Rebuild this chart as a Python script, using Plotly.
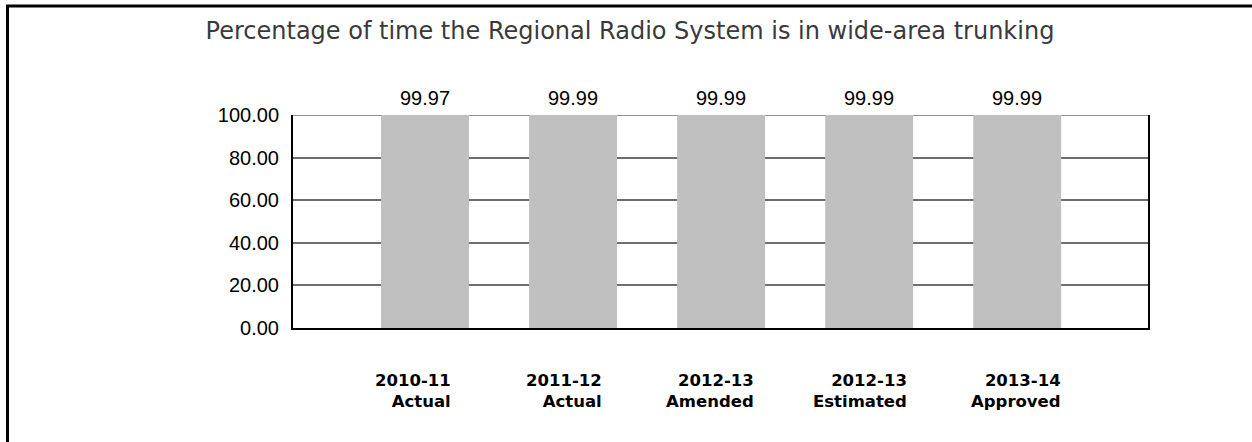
import plotly.graph_objects as go

categories = ["2010-11 Actual", "2011-12 Actual", "2012-13 Amended", "2012-13 Estimated", "2013-14 Approved"]
label_line1 = ["2010-11", "2011-12", "2012-13", "2012-13", "2013-14"]
label_line2 = ["Actual", "Actual", "Amended", "Estimated", "Approved"]
values = [99.97, 99.99, 99.99, 99.99, 99.99]
y_ticks = [0, 20, 40, 60, 80, 100]
title_text = "Percentage of time the Regional Radio System is in wide-area trunking"

W, H = 1252, 442
L, R, T, B = 293, 104, 115, 114
pw, ph = W - L - R, H - T - B

fig = go.Figure()
fig.add_trace(go.Bar(
    x=categories, y=values,
    width=0.594,
    marker=dict(color="#c0c0c0", line=dict(width=0)),
    hoverinfo="skip",
))

# value labels above bars
for c, v in zip(categories, values):
    fig.add_annotation(
        x=c, y=v, xref="x", yref="y", text=f"{v:.2f}", showarrow=False,
        xanchor="center", yanchor="bottom", yshift=4,
        font=dict(family="Liberation Sans, Arial", size=20, color="#000000"),
    )

label_shifts = [28, 31, 35, 40, 46]
for i, (a, b) in enumerate(zip(label_line1, label_line2)):
    fig.add_annotation(
        x=i, y=(328 - 369) / ph, xref="x", yref="paper",
        text=f"<b>{a}<br>{b}</b>", showarrow=False,
        xanchor="right", yanchor="top", align="right",
        xshift=label_shifts[i],
        font=dict(family="DejaVu Sans", size=16.5, color="#000000"),
    )

# top gridline at the maximum tick
fig.add_shape(type="line", xref="paper", yref="y", x0=0, x1=1, y0=max(y_ticks), y1=max(y_ticks),
              line=dict(color="#6d6d6d", width=1.5), layer="below")

# outer border (top and left visible)
fig.add_shape(type="rect", xref="paper", yref="paper",
              x0=(7.5 - L) / pw, x1=(W + 20 - L) / pw,
              y0=(328 - (H + 20)) / ph, y1=(328 - 6) / ph,
              line=dict(color="#000000", width=3), fillcolor="rgba(0,0,0,0)", layer="above")

fig.update_layout(
    width=W, height=H,
    margin=dict(l=L, r=R, t=T, b=B),
    paper_bgcolor="#ffffff", plot_bgcolor="#ffffff",
    showlegend=False,
    title=dict(text=title_text, x=630 / W, xanchor="center", y=1 - 31 / H, yanchor="middle",
               xref="container", yref="container",
               font=dict(family="DejaVu Sans", size=24, color="#3a3a3a")),
    xaxis=dict(range=[-0.8916, 4.8835], showticklabels=False, showgrid=False,
               showline=True, linecolor="#000000", linewidth=2, zeroline=False, ticks=""),
    yaxis=dict(range=[0, 100], tickvals=y_ticks, ticktext=[f"{v:.2f}" for v in y_ticks],
               showgrid=True, gridcolor="#6d6d6d", gridwidth=1.5,
               showline=True, linecolor="#000000", linewidth=2, mirror=True,
               zeroline=False, ticks="", ticklabelstandoff=8,
               tickfont=dict(family="Liberation Sans, Arial", size=20, color="#000000")),
)

fig.write_html("out.html")
